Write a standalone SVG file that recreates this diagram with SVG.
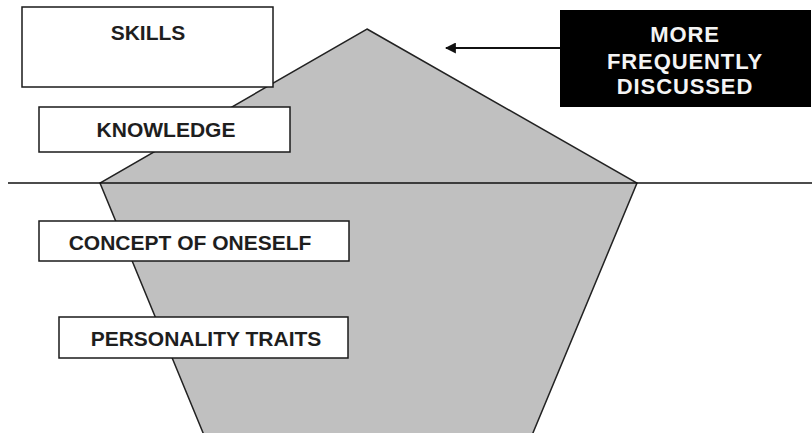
<svg xmlns="http://www.w3.org/2000/svg" width="812" height="433" viewBox="0 0 812 433">
  <style>
    .box { fill: #ffffff; stroke: #1a1a1a; stroke-width: 1.5; }
    .lbl { font-family: "Liberation Sans", Arial, sans-serif; font-weight: bold; font-size: 21px; fill: #1e1e1e; text-anchor: middle; }
    .wlbl { font-family: "Liberation Sans", Arial, sans-serif; font-weight: bold; font-size: 22px; fill: #f4f4f4; text-anchor: middle; letter-spacing: 0.9px; }
  </style>
  <defs>
    <marker id="ah" viewBox="0 0 10 10" refX="9" refY="5" markerWidth="5" markerHeight="5" markerUnits="strokeWidth" orient="auto">
      <path d="M0,0 L10,5 L0,10 z" fill="#111"/>
    </marker>
  </defs>
  <rect width="812" height="433" fill="#ffffff"/>
  <g id="iceberg">
    <polygon points="367,29 637,183 530,440 206,440 100,183" fill="#c0c0c0" stroke="#222" stroke-width="1.5"/>
  </g>
  <g id="connectors">
    <line id="waterline" x1="8" y1="183" x2="812" y2="183" stroke="#111" stroke-width="1.5"/>
    <line id="arrow" x1="560" y1="48" x2="446" y2="48" stroke="#111" stroke-width="2.2" marker-end="url(#ah)"/>
  </g>
  <g id="skills">
    <rect class="box" x="22" y="7" width="251" height="80"/>
    <text class="lbl" x="148" y="40">SKILLS</text>
  </g>
  <g id="knowledge">
    <rect class="box" x="39" y="107" width="251" height="45"/>
    <text class="lbl" x="166" y="137">KNOWLEDGE</text>
  </g>
  <g id="concept">
    <rect class="box" x="39" y="221" width="310" height="40"/>
    <text class="lbl" x="190" y="250">CONCEPT OF ONESELF</text>
  </g>
  <g id="personality">
    <rect class="box" x="59" y="317" width="289" height="41"/>
    <text class="lbl" x="206" y="346">PERSONALITY TRAITS</text>
  </g>
  <g id="more-frequently">
    <rect x="560" y="10" width="251" height="97" fill="#000000"/>
    <text class="wlbl" x="685" y="42">MORE</text>
    <text class="wlbl" x="685" y="69">FREQUENTLY</text>
    <text class="wlbl" x="685" y="94">DISCUSSED</text>
  </g>
</svg>
